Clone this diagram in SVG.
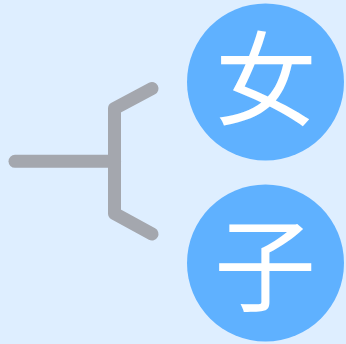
<svg xmlns="http://www.w3.org/2000/svg" width="346" height="344" viewBox="0 0 346 344">
  <style>
    .conn { fill: none; stroke: #a4a7ae; stroke-width: 13; stroke-linecap: round; stroke-linejoin: round; }
    .node circle { fill: #5fb1ff; }
    .node text { fill: #ffffff; font-family: "Noto Sans CJK SC", "Noto Sans CJK JP", sans-serif; font-size: 102px; font-weight: 400; text-anchor: middle; }
  </style>
  <rect x="0" y="0" width="346" height="344" fill="#deeeff"/>
  <g id="connectors">
    <path class="conn" d="M15,161.3 H114.5"/>
    <path class="conn" d="M152,88.5 L114.5,108.5 V213.5 L152,234"/>
  </g>
  <g id="node-nv" class="node">
    <circle cx="265.5" cy="82" r="78.5"/>
    <text x="266" y="118">女</text>
  </g>
  <g id="node-zi" class="node">
    <circle cx="265.5" cy="263" r="78.5"/>
    <text x="265" y="304">子</text>
  </g>
</svg>
